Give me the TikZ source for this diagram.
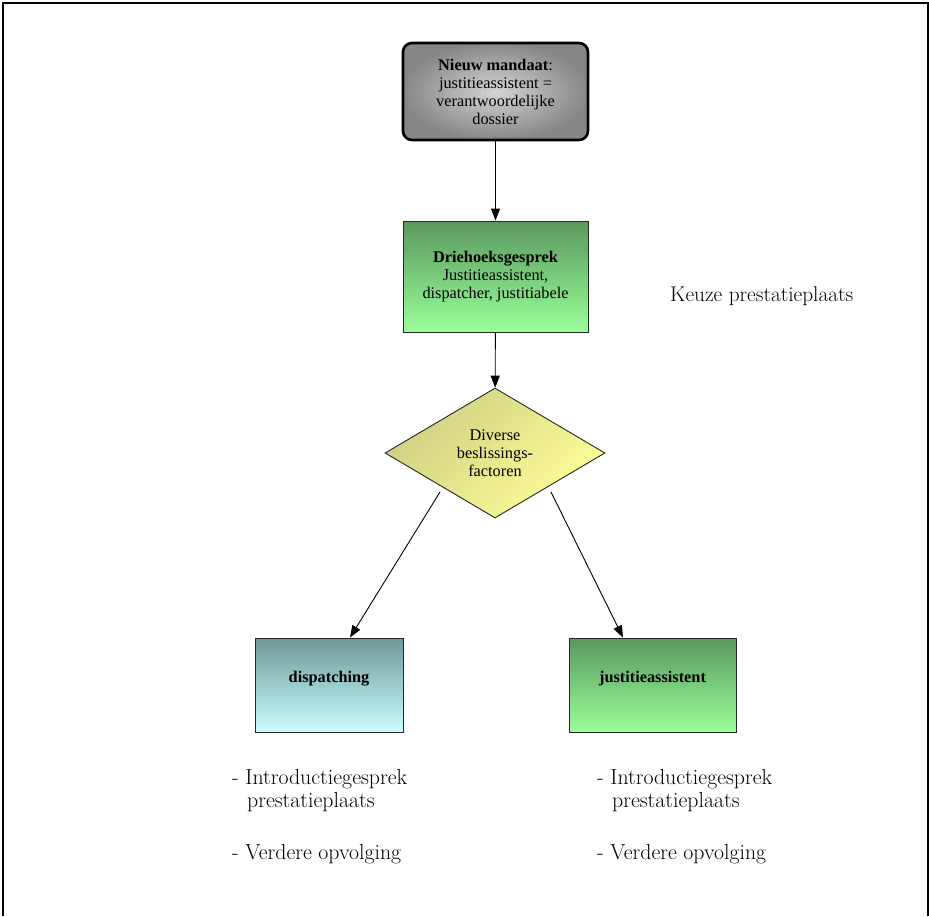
\documentclass[tikz,border=0pt]{standalone}
\usepackage{fontspec}
\usepackage{tikz}
\usetikzlibrary{arrows.meta,shapes.geometric}
\newfontfamily\boxfont{Liberation Serif}
\definecolor{MandaatOuter}{HTML}{878787}
\definecolor{MandaatInner}{HTML}{D4D4D4}
\definecolor{GroenTop}{HTML}{5A985E}
\definecolor{GroenBottom}{HTML}{99FF99}
\definecolor{DispTop}{HTML}{6F9898}
\definecolor{DispBottom}{HTML}{CCFFFF}
\definecolor{KeuzeDark}{HTML}{CFCF82}
\definecolor{KeuzeLight}{HTML}{FFFF99}

\tikzset{
  flowbox/.style={draw=black!85,line width=0.9pt,minimum height=111pt,
    align=center,font=\boxfont\fontsize{16.3}{18}\selectfont,inner sep=2pt},
  greenbox/.style={flowbox,top color=GroenTop,bottom color=GroenBottom},
  flowarrow/.style={-{Triangle[length=12pt,width=9pt]},line width=0.9pt},
  plaintext/.style={anchor=base west,font=\fontsize{21.8}{23}\selectfont,inner sep=0pt}
}

\begin{document}
\begin{tikzpicture}[x=1pt,y=-1pt]
  \useasboundingbox (0,0) rectangle (929,916);
  % frame, open at the bottom
  \draw[line width=1.3pt] (3,916) -- (3,3) -- (928,3) -- (928,916);

  \node[flowbox,draw=black,rounded corners=9pt,line width=2.6pt,inner color=MandaatInner,
    outer color=MandaatOuter,minimum width=185pt,minimum height=97pt]
    (mandaat) at (495.5,91.5) {\textbf{Nieuw mandaat}:\\justitieassistent =\\verantwoordelijke\\dossier};
  \node[greenbox,minimum width=185pt] (gesprek) at (495.5,276.5)
    {\textbf{Driehoeksgesprek}\\Justitieassistent,\\dispatcher, justitiabele};
  \node[diamond,draw=black!85,line width=0.9pt,aspect=1.69,minimum width=220pt,
    minimum height=130pt,inner sep=0pt,align=center,
    left color=KeuzeDark,right color=KeuzeLight,shading angle=45,
    font=\boxfont\fontsize{16.3}{18}\selectfont] (factoren) at (495,453)
    {Diverse\\beslissings-\\factoren};
  \node[flowbox,top color=DispTop,bottom color=DispBottom,minimum width=148pt,
    minimum height=94pt] (dispatching) at (329,685) {\textbf{dispatching}\\[-1pt]~};
  \node[greenbox,minimum width=167pt,minimum height=94pt] (assistent) at (652.5,685)
    {\textbf{justitieassistent}\\[-1pt]~};

  \coordinate (links) at (440,492);
  \coordinate (rechts) at (551,492);

  \draw[flowarrow] (mandaat) -- (gesprek);
  \draw[flowarrow] (gesprek) -- (factoren);
  \draw[flowarrow] (links) -- ([xshift=21pt]dispatching.north);
  \draw[flowarrow] (rechts) -- ([xshift=-29.5pt]assistent.north);

  \node[plaintext,font=\fontsize{21.3}{23}\selectfont] (keuze) at (670,301) {Keuze prestatieplaats};

  \node[plaintext] (introL) at (232,784) {- Introductiegesprek};
  \node[plaintext] (plaatsL) at (247,807) {prestatieplaats};
  \node[plaintext] (verderL) at (232,859) {- Verdere opvolging};
  \node[plaintext] (introR) at (597,784) {- Introductiegesprek};
  \node[plaintext] (plaatsR) at (612,807) {prestatieplaats};
  \node[plaintext] (verderR) at (597,859) {- Verdere opvolging};
\end{tikzpicture}
\end{document}
